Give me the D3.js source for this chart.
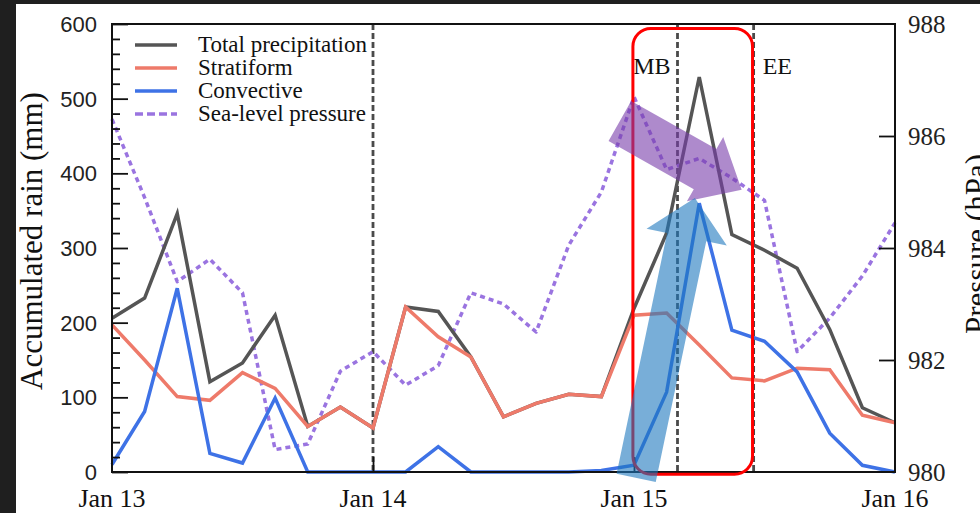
<!DOCTYPE html>
<html>
<head>
<meta charset="utf-8">
<script src="https://cdn.jsdelivr.net/npm/d3@7"></script>
<style>
  html, body { margin: 0; padding: 0; background: #1f1f1f; }
  svg { display: block; }
</style>
</head>
<body>
<svg id="chart" width="980" height="513"></svg>
<script>
// Hours since Jan 13 00 UTC, sampled every 3 h
const hours = [0, 3, 6, 9, 12, 15, 18, 21, 24, 27, 30, 33, 36, 39, 42, 45, 48, 51, 54, 57, 60, 63, 66, 69, 72];
// Accumulated rain (mm)
const totalRain = [206, 233, 346, 121, 146, 210, 61, 87, 59, 221, 215, 154, 74, 92, 104, 101, 219, 320, 529, 318, 297, 273, 191, 86, 66];
const stratiform = [197, 150, 101, 96, 133, 112, 61, 87, 59, 221, 181, 154, 74, 92, 104, 101, 210, 213, 170, 126, 122, 139, 137, 76, 66];
const convective = [10, 81, 246, 25, 12, 99, 0, 0, 0, 0, 34, 0, 0, 0, 0, 2, 9, 107, 360, 190, 175, 134, 52, 9, 0];
// Sea-level pressure (hPa)
const slp = [986.3, 984.9, 983.4, 983.8, 983.2, 980.4, 980.5, 981.8, 982.15, 981.55, 981.9, 983.2, 983.0, 982.5, 984.05, 985.0, 986.7, 985.4, 985.6, 985.25, 984.85, 982.15, 982.75, 983.5, 984.45];

const dayTicks = [0, 24, 48, 72];
const dayLabels = ["Jan 13", "Jan 14", "Jan 15", "Jan 16"];
const rainTicks = [0, 100, 200, 300, 400, 500, 600];
const pressTicks = [980, 982, 984, 986, 988];

// Vertical event markers (hours)
const eventLines = [24, 52, 59];
const eventLabels = [{ t: 52, text: "MB", side: "left" }, { t: 59, text: "EE", side: "right" }];

// Annotation arrows: tail and tip in (hours, mm)
const pressureArrow = { from: [46.7, 470], to: [57.9, 378] };
const convArrow = { from: [48.2, -8], to: [53.6, 367] };
// Highlight box (hours, mm)
const highlight = { t0: 47.9, t1: 58.9, v0: -3, v1: 594 };

const seriesNames = ["Total precipitation", "Stratiform", "Convective", "Sea-level pressure"];
const seriesColors = ["#555555", "#ee7a6a", "#3e72e6", "#9a74e0"];

const serif = "'Liberation Serif', 'Times New Roman', serif";
const sans = "'Liberation Sans', Arial, sans-serif";

const svg = d3.select("#chart");
const L = 112, R = 895, T = 24, B = 472;

const x = d3.scaleLinear().domain([0, 72]).range([L, R]);
const yR = d3.scaleLinear().domain([0, 600]).range([B, T]);
const yP = d3.scaleLinear().domain([980, 988]).range([B, T]);

// White page with dark surround
svg.append("rect").attr("x", 16).attr("y", 4).attr("width", 964).attr("height", 509).attr("fill", "#ffffff");

const plot = svg.append("g");

// Event dashed lines
plot.selectAll("line.evt").data(eventLines).join("line")
  .attr("class", "evt")
  .attr("x1", d => x(d)).attr("x2", d => x(d))
  .attr("y1", T).attr("y2", B)
  .attr("stroke", "#4a4a4a").attr("stroke-width", 2.8)
  .attr("stroke-dasharray", "6,3");

plot.selectAll("text.evt").data(eventLabels).join("text")
  .attr("class", "evt")
  .attr("x", d => d.side === "left" ? x(d.t) - 7 : x(d.t) + 9)
  .attr("y", 74)
  .attr("text-anchor", d => d.side === "left" ? "end" : "start")
  .attr("font-family", serif).attr("font-size", 24).attr("fill", "#111")
  .text(d => d.text);

// Series lines
const rainLine = arr => d3.line().x((d, i) => x(hours[i])).y(d => yR(d))(arr);
const pressLine = d3.line().x((d, i) => x(hours[i])).y(d => yP(d));

plot.append("path").attr("d", pressLine(slp))
  .attr("fill", "none").attr("stroke", seriesColors[3]).attr("stroke-width", 3.5)
  .attr("stroke-dasharray", "5,4").attr("stroke-linejoin", "round");

plot.append("path").attr("d", rainLine(totalRain))
  .attr("fill", "none").attr("stroke", seriesColors[0]).attr("stroke-width", 3.5).attr("stroke-linejoin", "miter");
plot.append("path").attr("d", rainLine(stratiform))
  .attr("fill", "none").attr("stroke", seriesColors[1]).attr("stroke-width", 3.5);
plot.append("path").attr("d", rainLine(convective))
  .attr("fill", "none").attr("stroke", seriesColors[2]).attr("stroke-width", 3.5);

// Frame
plot.append("rect").attr("x", L).attr("y", T).attr("width", R - L).attr("height", B - T)
  .attr("fill", "none").attr("stroke", "#111").attr("stroke-width", 2);

// Left axis (ticks inside)
const leftAxis = d3.axisRight(yR).tickValues(rainTicks).tickSize(16).tickFormat("");
const leftG = plot.append("g").attr("transform", `translate(${L},0)`).call(leftAxis);
const minorAxis = d3.axisRight(yR).tickValues(d3.range(0, 601, 20).filter(v => v % 100 !== 0)).tickSize(8).tickFormat("");
const minorG = plot.append("g").attr("transform", `translate(${L},0)`).call(minorAxis);
[leftG, minorG].forEach(g => {
  g.select(".domain").remove();
  g.selectAll("line").attr("stroke", "#111").attr("stroke-width", 1.8);
});
plot.selectAll("text.ylab").data(rainTicks).join("text").attr("class", "ylab")
  .attr("x", 97).attr("y", d => yR(d) + 8)
  .attr("text-anchor", "end").attr("font-family", sans).attr("font-size", 22).attr("fill", "#222")
  .text(d => d);

// Right axis (ticks inside)
const rightAxis = d3.axisLeft(yP).tickValues(pressTicks.slice(1, -1)).tickSize(16).tickFormat("");
const rightG = plot.append("g").attr("transform", `translate(${R},0)`).call(rightAxis);
rightG.select(".domain").remove();
rightG.selectAll("line").attr("stroke", "#111").attr("stroke-width", 1.8);
plot.selectAll("text.plab").data(pressTicks).join("text").attr("class", "plab")
  .attr("x", 908).attr("y", d => yP(d) + 9)
  .attr("font-family", serif).attr("font-size", 25).attr("fill", "#222")
  .text(d => d);

// Bottom axis
const bottomAxis = d3.axisTop(x).tickValues(dayTicks.slice(1, -1)).tickSize(15).tickFormat("");
const bottomG = plot.append("g").attr("transform", `translate(0,${B})`).call(bottomAxis);
bottomG.select(".domain").remove();
bottomG.selectAll("line").attr("stroke", "#111").attr("stroke-width", 1.8);
plot.selectAll("text.xlab").data(dayTicks).join("text").attr("class", "xlab")
  .attr("x", d => x(d)).attr("y", 507)
  .attr("text-anchor", "middle").attr("font-family", serif).attr("font-size", 26).attr("fill", "#111")
  .text((d, i) => dayLabels[i]);

// Axis titles
svg.append("text").attr("transform", "translate(42,241) rotate(-90)")
  .attr("text-anchor", "middle").attr("font-family", serif).attr("font-size", 31).attr("fill", "#111")
  .text("Accumulated rain (mm)");
svg.append("text").attr("transform", "translate(987,244) rotate(-90)")
  .attr("text-anchor", "middle").attr("font-family", serif).attr("font-size", 31).attr("fill", "#111")
  .text("Pressure (hPa)");

// Legend
const legend = plot.append("g");
const legRows = seriesNames.map((name, i) => ({ name, color: seriesColors[i], dashed: i === 3, y: 45 + i * 23 }));
legend.selectAll("line").data(legRows).join("line")
  .attr("x1", 135).attr("x2", 177).attr("y1", d => d.y).attr("y2", d => d.y)
  .attr("stroke", d => d.color).attr("stroke-width", 3.5)
  .attr("stroke-dasharray", d => d.dashed ? "8,4" : null);
legend.selectAll("text").data(legRows).join("text")
  .attr("x", 198).attr("y", d => d.y + 7)
  .attr("font-family", serif).attr("font-size", 23).attr("fill", "#111")
  .text(d => d.name);

// Highlight box
plot.append("rect")
  .attr("x", x(highlight.t0)).attr("y", yR(highlight.v1))
  .attr("width", x(highlight.t1) - x(highlight.t0)).attr("height", yR(highlight.v0) - yR(highlight.v1))
  .attr("rx", 18).attr("ry", 18)
  .attr("fill", "none").attr("stroke", "#ff0000").attr("stroke-width", 3);

// Block arrows
function arrowPath(p0, p1, shaftW, headW, headL) {
  const dx = p1[0] - p0[0], dy = p1[1] - p0[1];
  const len = Math.hypot(dx, dy);
  const ux = dx / len, uy = dy / len, nx = -uy, ny = ux;
  const bx = p1[0] - ux * headL, by = p1[1] - uy * headL;
  const pts = [
    [p0[0] + nx * shaftW / 2, p0[1] + ny * shaftW / 2],
    [bx + nx * shaftW / 2, by + ny * shaftW / 2],
    [bx + nx * headW / 2, by + ny * headW / 2],
    p1,
    [bx - nx * headW / 2, by - ny * headW / 2],
    [bx - nx * shaftW / 2, by - ny * shaftW / 2],
    [p0[0] - nx * shaftW / 2, p0[1] - ny * shaftW / 2]
  ];
  return "M" + pts.map(p => p.join(",")).join("L") + "Z";
}
const toPx = p => [x(p[0]), yR(p[1])];
plot.append("path")
  .attr("d", arrowPath(toPx(pressureArrow.from), toPx(pressureArrow.to), 46, 74, 42))
  .attr("fill", "rgb(120,60,170)").attr("fill-opacity", 0.6);
plot.append("path")
  .attr("d", arrowPath(toPx(convArrow.from), toPx(convArrow.to), 40, 82, 40))
  .attr("fill", "rgb(30,120,190)").attr("fill-opacity", 0.6);
</script>
</body>
</html>
